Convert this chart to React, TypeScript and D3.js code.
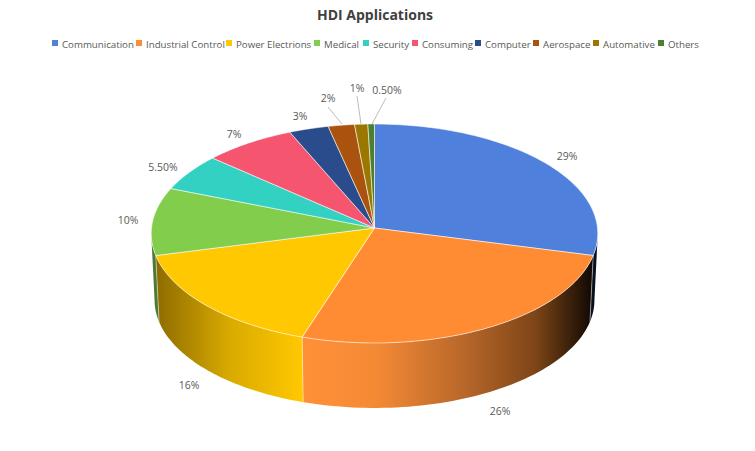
import * as d3 from "d3";

const categories = ["Communication", "Industrial Control", "Power Electrions", "Medical", "Security", "Consuming", "Computer", "Aerospace", "Automative", "Others"];
const shares = [29, 26, 16, 10, 5.5, 7, 3, 2, 1, 0.5];
const shareLabels = ["29%", "26%", "16%", "10%", "5.50%", "7%", "3%", "2%", "1%", "0.50%"];
const colors = ["#4f80dc", "#ff8c33", "#ffc800", "#82cd4b", "#33d1c1", "#f5556e", "#2a4b8c", "#a9530e", "#9a7800", "#4e7f2e"];
const legendX = [52, 136, 226, 314, 363, 412, 475, 533, 593, 658];
const labelPos: [number, number][] = [[567, 156], [500, 411], [189, 385], [128, 220], [163, 167], [234, 134], [300, 116], [328, 98], [357, 88], [387, 90]];
// slices with a leader line: [from the label, to the pie]
const leaders: Record<number, [number, number, number, number]> = {
  7: [328, 107, 342, 124],
  8: [357, 96, 361, 124],
  9: [386, 98, 372, 124],
};

const width = 755;
const height = 451;
const cx = 374.5;
const cy = 228;
const rx = 223;
const ry = 109.2;
const tilt = 0.0502;
const depthY = 66.7;
const bottomScale = 0.985;

// circle angle to picture, with a little perspective so the near half is deeper
const project = (a: number, scale = 1, dy = 0): [number, number] => {
  const d = 1 + tilt * Math.cos(a);
  return [cx + (scale * rx * Math.sin(a)) / d, cy + dy - (scale * ry * Math.cos(a)) / d];
};

const arcPoints = (a0: number, a1: number, scale = 1, dy = 0) =>
  d3.range(0, 61).map((i) => project(a0 + ((a1 - a0) * i) / 60, scale, dy));

const line = d3.line();
const arcs = d3.pie<number>().sort(null)(shares);

const topPath = (a0: number, a1: number) => line([[cx, cy], ...arcPoints(a0, a1)]) + "Z";

const wallPath = (a0: number, a1: number) =>
  line([...arcPoints(a0, a1), ...arcPoints(a1, a0, bottomScale, depthY)]) + "Z";

// the wall runs between the two points where the ellipse is widest
const wallFrom = Math.acos(-tilt);
const wallTo = 2 * Math.PI - wallFrom;
const wallFill: Record<number, string> = { 0: "#08101f", 1: "url(#wallOrange)", 2: "url(#wallYellow)", 3: "#4c7a30" };
const seams = arcs.map((d) => d.startAngle).filter((a) => a > wallFrom && a < wallTo);

export default function App() {
  return (
    <svg width={width} height={height} style={{ position: "absolute", left: 0, top: 0, background: "#fff" }} fontFamily="'Open Sans', sans-serif">
      <defs>
        <linearGradient id="wallOrange" gradientUnits="userSpaceOnUse" x1={302} x2={594} y1={0} y2={0}>
          <stop offset="0" stopColor="#ff9038" />
          <stop offset="0.25" stopColor="#f58a35" />
          <stop offset="0.55" stopColor="#b9682a" />
          <stop offset="0.8" stopColor="#7d4517" />
          <stop offset="1" stopColor="#0d0703" />
        </linearGradient>
        <linearGradient id="wallYellow" gradientUnits="userSpaceOnUse" x1={157} x2={302} y1={0} y2={0}>
          <stop offset="0" stopColor="#8f6c00" />
          <stop offset="0.5" stopColor="#d9aa00" />
          <stop offset="1" stopColor="#ffc800" />
        </linearGradient>
      </defs>
      <text x={375} y={20} textAnchor="middle" fontSize={14} fontWeight={700} fill="#404040">HDI Applications</text>
      {categories.map((c, i) => (
        <g key={c}>
          <rect x={legendX[i]} y={40} width={6} height={6} fill={colors[i]} />
          <text x={legendX[i] + 10} y={47.5} fontSize={9.7} fill="#595959">{c}</text>
        </g>
      ))}
      {arcs.map((d, i) => {
        const a0 = Math.max(d.startAngle, wallFrom);
        const a1 = Math.min(d.endAngle, wallTo);
        if (a1 <= a0) return null;
        return <path key={i} d={wallPath(a0, a1)} fill={wallFill[i] ?? colors[i]} />;
      })}
      {seams.map((a) => {
        const [x1, y1] = project(a);
        const [x2, y2] = project(a, bottomScale, depthY);
        return <line key={a} x1={x1} y1={y1} x2={x2} y2={y2} stroke="#fff" strokeOpacity={0.6} strokeWidth={0.75} />;
      })}
      {arcs.map((d, i) => (
        <path key={i} d={topPath(d.startAngle, d.endAngle)} fill={colors[i]} stroke="#fff" strokeOpacity={0.75} strokeWidth={0.75} strokeLinejoin="round" />
      ))}
      {Object.entries(leaders).map(([k, l]) => (
        <line key={k} x1={l[0]} y1={l[1]} x2={l[2]} y2={l[3]} stroke="#a6a6a6" strokeWidth={0.75} />
      ))}
      {shareLabels.map((s, i) => (
        <text key={i} x={labelPos[i][0]} y={labelPos[i][1] + 4} textAnchor="middle" fontSize={10.5} fill="#595959">{s}</text>
      ))}
    </svg>
  );
}
